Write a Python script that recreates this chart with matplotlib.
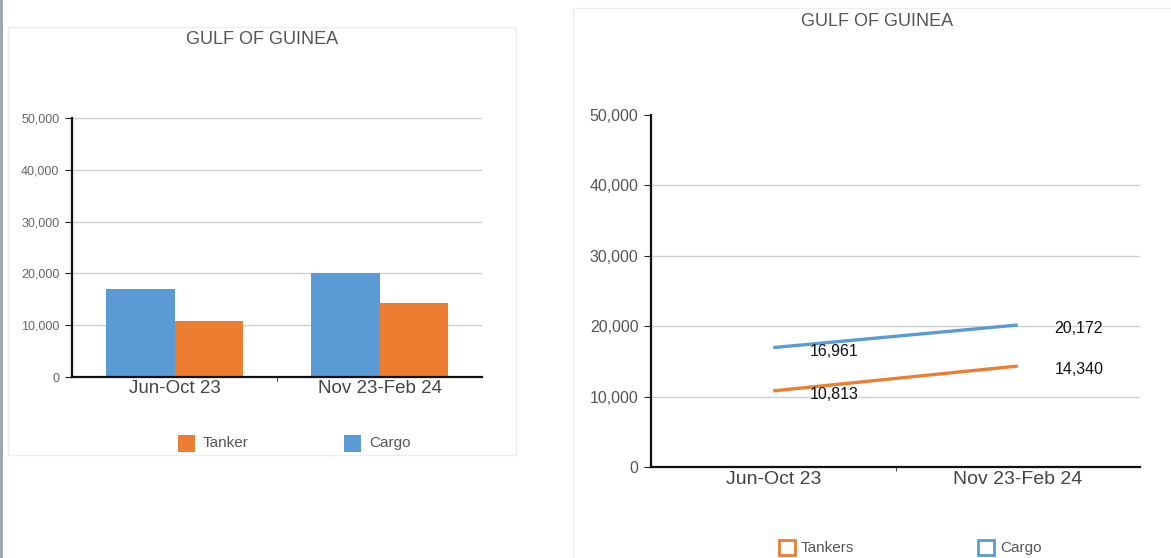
import matplotlib
matplotlib.use("Agg")
import matplotlib.pyplot as plt
from matplotlib.patches import Rectangle
from matplotlib.lines import Line2D
from matplotlib.ticker import FuncFormatter

plt.rcParams['font.family'] = ['Liberation Sans', 'DejaVu Sans']

# ---- data ----
title = "GULF OF GUINEA"
categories = ["Jun-Oct 23", "Nov 23-Feb 24"]
cargo = [16961, 20172]
tanker = [10813, 14340]
bar_labels = ["Tanker", "Cargo"]
line_labels = ["Tankers", "Cargo"]
yticks = [0, 10000, 20000, 30000, 40000, 50000]

BLUE = "#5B9BD5"
ORANGE = "#ED7D31"
GRID = "#cfcfcf"
W, H = 1171, 558

fig = plt.figure(figsize=(W / 100, H / 100), dpi=100)
fig.patch.set_facecolor("white")

def fx(px):
    return px / W

def fy(py):
    return 1 - py / H

# panel frames
fig.add_artist(Rectangle((fx(8), fy(455)), fx(516) - fx(8), fy(27) - fy(455),
                         transform=fig.transFigure, fill=False, edgecolor="#eeeeee", lw=1))
fig.add_artist(Rectangle((fx(573), fy(600)), fx(1200) - fx(573), fy(8) - fy(600),
                         transform=fig.transFigure, fill=False, edgecolor="#eeeeee", lw=1))
fig.add_artist(Line2D([fx(1), fx(1)], [0, 1], transform=fig.transFigure, color="#9aa0a6", lw=2))

fmt = FuncFormatter(lambda v, p: f"{int(v):,}")
x = list(range(len(categories)))

# ---- left bar chart ----
ax1 = fig.add_axes([fx(72), fy(377), fx(482) - fx(72), fy(118) - fy(377)])
bw = 0.332
ax1.bar([i - bw / 2 for i in x], cargo, width=bw, color=BLUE, zorder=3)
ax1.bar([i + bw / 2 for i in x], tanker, width=bw, color=ORANGE, zorder=3)
ax1.set_xlim(-0.5, 1.5)
ax1.set_ylim(0, 50000)
ax1.set_yticks(yticks)
ax1.yaxis.set_major_formatter(fmt)
for v in yticks[1:]:
    ax1.axhline(v, color=GRID, lw=1, zorder=1)
ax1.set_xticks(x)
ax1.set_xticklabels(categories, fontsize=13.5, color="#444444")
ax1.set_xticks([0.5], minor=True)
ax1.tick_params(axis="x", which="major", length=0, pad=2)
ax1.tick_params(axis="x", which="minor", length=3, color="#222222")
ax1.tick_params(axis="y", labelsize=9, labelcolor="#666666", length=5, color="#222222", pad=4)
for s in ["top", "right"]:
    ax1.spines[s].set_visible(False)
for s in ["left", "bottom"]:
    ax1.spines[s].set_linewidth(1.6)
    ax1.spines[s].set_color("#111111")
    ax1.spines[s].set_zorder(4)
ax1.set_facecolor("none")
fig.text(fx(262), fy(40), title, ha="center", va="center", fontsize=13, color="#555555")

# legend left (manual handles)
for lab, col, px in [(bar_labels[0], ORANGE, 178), (bar_labels[1], BLUE, 344)]:
    fig.add_artist(Rectangle((fx(px), fy(452)), fx(17), fy(435) - fy(452),
                             transform=fig.transFigure, facecolor=col, edgecolor="none"))
    fig.text(fx(px + 25), fy(443), lab, ha="left", va="center", fontsize=11, color="#555555")

# ---- right line chart ----
ax2 = fig.add_axes([fx(651), fy(467), fx(1140) - fx(651), fy(115) - fy(467)])
ax2.plot(x, tanker, color=ORANGE, lw=2.4, zorder=3, solid_capstyle="butt")
ax2.plot(x, cargo, color=BLUE, lw=2.4, zorder=3, solid_capstyle="butt")
ax2.set_xlim(-0.5, 1.5)
ax2.set_ylim(0, 50000)
ax2.set_yticks(yticks)
ax2.yaxis.set_major_formatter(fmt)
for v in yticks[1:-1]:
    ax2.axhline(v, color=GRID, lw=1, zorder=1)
ax2.set_xticks(x)
ax2.set_xticklabels(categories, fontsize=14, color="#444444")
ax2.set_xticks([0.5], minor=True)
ax2.tick_params(axis="x", which="major", length=0, pad=3)
ax2.tick_params(axis="x", which="minor", length=3, color="#222222")
ax2.tick_params(axis="y", labelsize=11.5, labelcolor="#555555", length=5, color="#222222", pad=4)
for s in ["top", "right"]:
    ax2.spines[s].set_visible(False)
for s in ["left", "bottom"]:
    ax2.spines[s].set_linewidth(1.6)
    ax2.spines[s].set_color("#111111")
    ax2.spines[s].set_zorder(4)
for series in (cargo, tanker):
    for i, v in zip(x, series):
        ax2.annotate(f"{v:,}", (i, v), xytext=(44, -2.5), textcoords="offset points",
                     ha="center", va="center", fontsize=11.5, color="#111111", zorder=5)
fig.text(fx(877), fy(21), title, ha="center", va="center", fontsize=13, color="#555555")

for lab, col, px in [(line_labels[0], ORANGE, 779), (line_labels[1], BLUE, 978)]:
    fig.add_artist(Rectangle((fx(px), fy(555)), fx(16), fy(540) - fy(555),
                             transform=fig.transFigure, facecolor="white", edgecolor=col, lw=2))
    fig.text(fx(px + 22), fy(548), lab, ha="left", va="center", fontsize=11, color="#555555")

fig.savefig("out.png", dpi=100)
